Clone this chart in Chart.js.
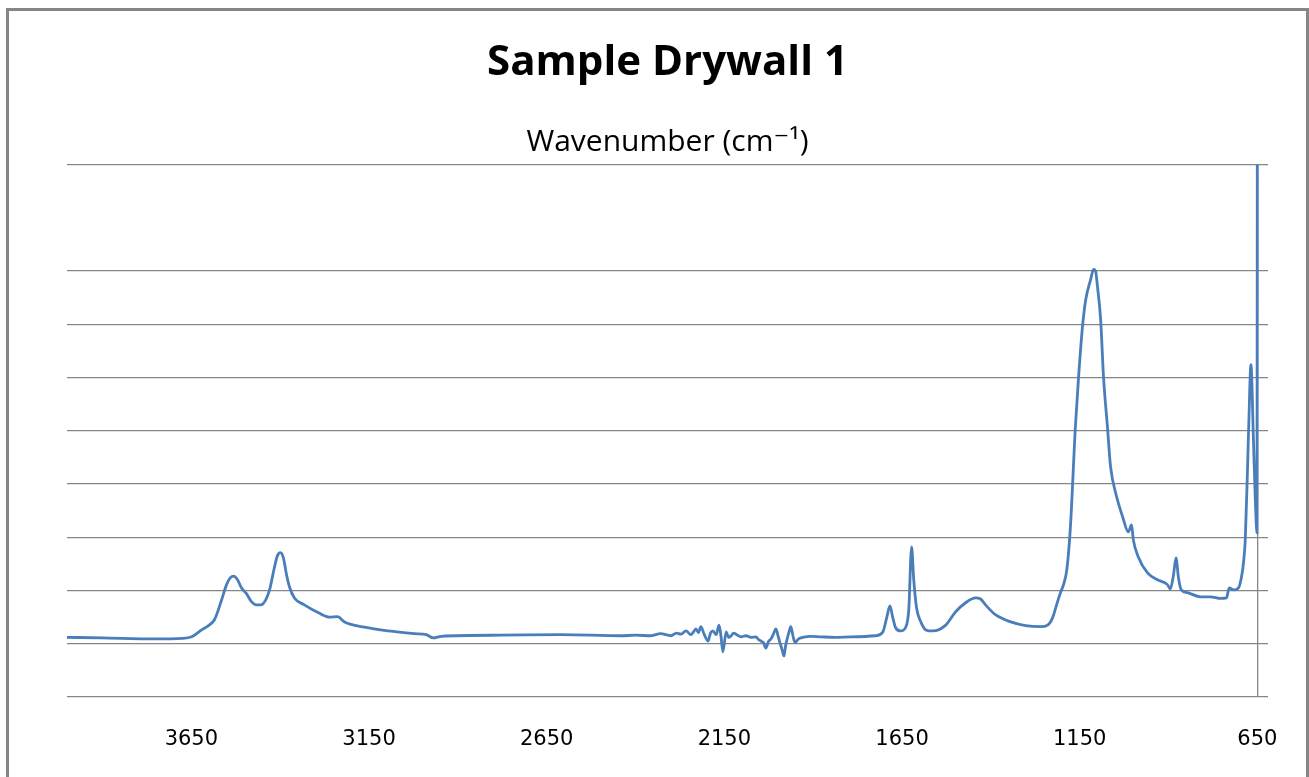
<!DOCTYPE html>
<html>
<head>
<meta charset="utf-8">
<title>Sample Drywall 1</title>
<script src="https://cdn.jsdelivr.net/npm/chart.js@4.4.1/dist/chart.umd.min.js"></script>
<style>
body { margin: 0; background: #fff; }
#wrap { position: relative; width: 1309px; height: 777px; overflow: hidden; }
#frame { position: absolute; left: 6px; top: 8px; width: 1297px; height: 800px; border: 3px solid #868686; pointer-events: none; }
canvas { position: absolute; left: 0; top: 0; }
</style>
</head>
<body>
<div id="wrap">
<canvas id="chart" width="1309" height="777"></canvas>
<div id="frame"></div>
</div>
<script>
/* data: wavenumber (cm-1) and absorbance (arbitrary units) */

const wavenumbers = [
4000, 3902, 3753, 3677, 3649, 3621, 3602, 3585, 3565, 3551, 3540, 3531, 3520, 3509, 3495, 3481,
3467, 3455, 3441, 3430, 3416, 3408, 3399, 3391, 3382, 3374, 3360, 3332, 3292, 3261, 3239, 3219,
3163, 3096, 3023, 2989, 2969, 2947, 2778, 2609, 2441, 2400, 2356, 2330, 2300, 2285, 2272, 2258,
2244, 2237, 2230, 2223, 2216, 2207, 2196, 2189, 2182, 2173, 2165, 2160, 2154, 2145, 2138, 2131,
2124, 2117, 2103, 2089, 2075, 2061, 2054, 2047, 2040, 2033, 2026, 2019, 2012, 2005, 1999, 1994,
1988, 1982, 1978, 1974, 1968, 1963, 1957, 1951, 1943, 1935, 1910, 1878, 1840, 1794, 1724, 1704,
1693, 1684, 1676, 1668, 1654, 1639, 1631, 1623, 1617, 1609, 1597, 1583, 1564, 1527, 1499, 1471,
1443, 1429, 1415, 1386, 1344, 1302, 1260, 1240, 1226, 1215, 1204, 1195, 1186, 1176, 1162, 1153,
1142, 1133, 1119, 1111, 1105, 1100, 1091, 1083, 1072, 1063, 1049, 1029, 1013, 1004, 999, 985,
959, 931, 903, 895, 886, 879, 872, 864, 847, 810, 782, 754, 737, 729, 717, 703,
695, 689, 684, 678, 674, 668, 661, 656, 651, 650
];

const absorbance = [
1.12, 1.11, 1.09, 1.10, 1.13, 1.26, 1.34, 1.45, 1.82, 2.11, 2.24, 2.27, 2.20, 2.05, 1.94, 1.79,
1.73, 1.73, 1.82, 2.01, 2.44, 2.65, 2.71, 2.61, 2.29, 2.07, 1.86, 1.73, 1.58, 1.50, 1.51, 1.41,
1.31, 1.24, 1.19, 1.17, 1.11, 1.14, 1.16, 1.17, 1.15, 1.16, 1.15, 1.19, 1.15, 1.20, 1.18, 1.24,
1.17, 1.22, 1.28, 1.21, 1.32, 1.18, 1.05, 1.20, 1.24, 1.17, 1.35, 1.17, 0.85, 1.22, 1.12, 1.15,
1.20, 1.18, 1.13, 1.15, 1.12, 1.13, 1.08, 1.05, 1.02, 0.92, 1.04, 1.09, 1.18, 1.28, 1.15, 1.03,
0.90, 0.77, 0.95, 1.07, 1.22, 1.32, 1.15, 1.02, 1.08, 1.11, 1.14, 1.13, 1.12, 1.13, 1.15, 1.22,
1.49, 1.71, 1.49, 1.30, 1.24, 1.32, 1.64, 2.82, 2.20, 1.67, 1.41, 1.26, 1.24, 1.35, 1.60, 1.77,
1.86, 1.84, 1.73, 1.54, 1.41, 1.34, 1.32, 1.35, 1.49, 1.73, 1.96, 2.12, 2.40, 3.20, 5.08, 6.02,
6.96, 7.46, 7.84, 8.03, 7.99, 7.71, 7.09, 6.02, 5.08, 4.32, 3.84, 3.38, 3.10, 3.23, 2.95, 2.63,
2.33, 2.20, 2.11, 2.03, 2.29, 2.61, 2.24, 2.01, 1.96, 1.88, 1.88, 1.85, 1.86, 2.05, 2.01, 2.05,
2.24, 2.52, 2.95, 4.21, 5.15, 6.24, 4.83, 3.76, 3.08, 12
];

const tickLabels = [650, 1150, 1650, 2150, 2650, 3150, 3650];

const points = wavenumbers.map((w, i) => ({ x: w, y: absorbance[i] }));

const gridGray = "#868686";

new Chart(document.getElementById("chart"), {
type: "line",
data: {
datasets: [{
label: "Sample Drywall 1",
data: points,
borderColor: "#4a7ebb",
borderWidth: 2.8,
pointRadius: 0,
cubicInterpolationMode: "monotone",
fill: false
}]
},
options: {
responsive: false,
animation: false,
layout: { padding: { left: 67, right: 41, top: 0, bottom: 20 } },
plugins: {
legend: { display: false },
tooltip: { enabled: false },
title: {
display: true,
text: "Sample Drywall 1",
color: "#000",
font: { family: "'Open Sans', Lato, sans-serif", size: 42, weight: "bold", lineHeight: 1.2 },
padding: { top: 38, bottom: 36 }
},
subtitle: {
display: true,
text: "Wavenumber (cm\u207B\u00B9)",
color: "#000",
font: { family: "'Open Sans', 'DejaVu Sans', sans-serif", size: 30, lineHeight: 1.2 },
padding: { top: 0, bottom: 4 }
}
},
scales: {
x: {
type: "linear",
reverse: true,
min: 620,
max: 4000,
afterBuildTicks: axis => {
axis.ticks = tickLabels.map(v => ({ value: v }));
},
afterFit: axis => {
axis.height = 60;
},
ticks: {
color: "#000",
font: { family: "'DejaVu Sans', sans-serif", size: 21 },
padding: 30,
maxRotation: 0,
autoSkip: false,
callback: v => String(v)
},
grid: {
drawTicks: false,
lineWidth: 1.3,
color: ctx => (ctx.tick && ctx.tick.value === 650) ? gridGray : "rgba(0,0,0,0)"
},
border: { display: false }
},
y: {
min: 0,
max: 10,
ticks: { display: false, stepSize: 1 },
grid: {
drawTicks: false,
lineWidth: 1.3,
color: ctx => (ctx.tick && ctx.tick.value === 9) ? "rgba(0,0,0,0)" : gridGray
},
border: { display: false }
}
}
}
});
</script>
</body>
</html>
